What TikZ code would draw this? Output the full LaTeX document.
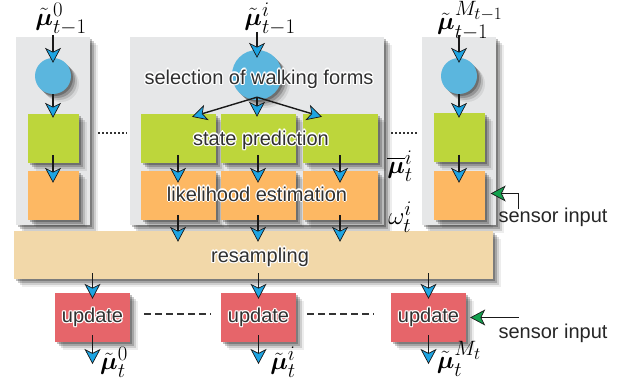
\documentclass[tikz,border=0pt]{standalone}
\usepackage{amsmath}
\usepackage{fontspec}
\setmainfont{Liberation Sans}
\usetikzlibrary{arrows.meta,shadows,calc}

\definecolor{panelgray}{HTML}{E6E7E8}
\definecolor{circblue}{HTML}{5BB6DE}
\definecolor{predgreen}{HTML}{BDD63B}
\definecolor{likeorange}{HTML}{FDB863}
\definecolor{restan}{HTML}{F2D8A9}
\definecolor{updred}{HTML}{E6656A}
\definecolor{tipblue}{HTML}{1DA4E2}
\definecolor{tipgreen}{HTML}{12A14E}
\definecolor{txtgray}{HTML}{303030}

% white halo behind a label
\newcommand\haloat[3]{\rlap{\kern#1\raisebox{#2}{\textcolor{white}{#3}}}}
\newcommand\halo[1]{%
  \haloat{1.2pt}{0pt}{#1}\haloat{-1.2pt}{0pt}{#1}%
  \haloat{0pt}{1.2pt}{#1}\haloat{0pt}{-1.2pt}{#1}%
  \haloat{.85pt}{.85pt}{#1}\haloat{-.85pt}{.85pt}{#1}%
  \haloat{.85pt}{-.85pt}{#1}\haloat{-.85pt}{-.85pt}{#1}#1}

\tikzset{
  softshadow/.style={
    drop shadow={shadow xshift=2pt,shadow yshift=-2pt,opacity=.25,fill=black},
    drop shadow={shadow xshift=4pt,shadow yshift=-4pt,opacity=.2,fill=black},
    drop shadow={shadow xshift=6pt,shadow yshift=-6pt,opacity=.13,fill=black},
    drop shadow={shadow xshift=8pt,shadow yshift=-8pt,opacity=.07,fill=black}},
  panel/.style={fill=panelgray,draw=none,softshadow,inner sep=0pt,anchor=north west},
  blob/.style={circle,fill=circblue,draw=none,softshadow,inner sep=0pt},
  predbox/.style={rectangle,fill=predgreen,draw=none,softshadow,inner sep=0pt,
    minimum height=49pt},
  likebox/.style={rectangle,fill=likeorange,draw=none,softshadow,inner sep=0pt,
    minimum height=49pt},
  updbox/.style={rectangle,fill=updred,draw=none,softshadow,inner sep=0pt,
    minimum width=75pt,minimum height=49pt,text=txtgray,
    font=\fontsize{20}{24}\selectfont},
  lbl/.style={text=txtgray,font=\fontsize{20}{24}\selectfont,inner sep=0pt},
  mathlbl/.style={text=black,font=\fontsize{24.88}{30}\selectfont,inner sep=0pt},
  arr/.style={draw=black!90,line width=1.4pt,
    -{Stealth[length=15pt,width=16pt,inset=4pt,fill=tipblue,line width=0.7pt]}},
  sensarr/.style={draw=black!90,line width=1.4pt,
    -{Stealth[length=15pt,width=16pt,inset=4pt,fill=tipgreen,line width=0.7pt]}},
  dotline/.style={draw=black!80,line width=1.5pt,dash pattern=on 2pt off 2pt},
  dashline/.style={draw=black!80,line width=1.4pt,dash pattern=on 6.5pt off 4.5pt},
}

\begin{document}
\begin{tikzpicture}[x=1pt,y=-1pt]
\useasboundingbox (0,0) rectangle (634,382);

% particle panels
\node[panel,minimum width=74pt,minimum height=188pt] (pL) at (16,37) {};
\node[panel,minimum width=254pt,minimum height=188pt] (pM) at (130,37) {};
\node[panel,minimum width=74pt,minimum height=188pt] (pR) at (422,37) {};

% walking-form selection
\node[blob,minimum size=36pt] (cL) at (53,76) {};
\node[blob,minimum size=50pt] (cM) at (257,75) {};
\node[blob,minimum size=36pt] (cR) at (459,76) {};

% state prediction boxes
\node[predbox,minimum width=51pt] (gL) at (53,138.5) {};
\node[predbox,minimum width=75pt] (g1) at (178,138.5) {};
\node[predbox,minimum width=75pt] (g2) at (258,138.5) {};
\node[predbox,minimum width=75pt] (g3) at (340,138.5) {};
\node[predbox,minimum width=51pt] (gR) at (459,138) {};

% likelihood boxes
\node[likebox,minimum width=51pt] (oL) at (53,195.5) {};
\node[likebox,minimum width=75pt] (o1) at (178,195.5) {};
\node[likebox,minimum width=75pt] (o2) at (258,195.5) {};
\node[likebox,minimum width=75pt] (o3) at (340,195.5) {};
\node[likebox,minimum width=51pt] (oR) at (459,195.5) {};

% resampling bar
\node[rectangle,fill=restan,draw=none,softshadow,inner sep=0pt,
  minimum width=479pt,minimum height=48pt] (res) at (253.5,255) {};

% update boxes
\node[updbox] (u0) at (92.5,317.5) {\halo{update}};
\node[updbox] (ui) at (258.5,317.5) {\halo{update}};
\node[updbox] (uM) at (428.5,317.5) {\halo{update}};

% stage labels
\node[lbl] (tsel) at (259,79) {\halo{selection of walking forms}};
\node[lbl] (tpred) at (261,140) {\halo{state prediction}};
\node[lbl] (tlike) at (257,194) {\halo{likelihood estimation}};
\node[lbl] (tres) at (260,257) {\halo{resampling}};

% particle labels
\node[mathlbl] (m0) at (61,19) {$\tilde{\boldsymbol{\mu}}^{0}_{t-1}$};
\node[mathlbl] (mi) at (270,19) {$\tilde{\boldsymbol{\mu}}^{i}_{t-1}$};
\node[mathlbl] (mM) at (470,21) {$\tilde{\boldsymbol{\mu}}^{M_{t-1}}_{t-1}$};
\node[mathlbl] (mbar) at (400,166) {$\overline{\boldsymbol{\mu}}^{i}_{t}$};
\node[mathlbl] (wi) at (400,217) {$\omega^{i}_{t}$};
\node[mathlbl] (n0) at (114,362) {$\tilde{\boldsymbol{\mu}}^{0}_{t}$};
\node[mathlbl] (ni) at (283,362) {$\tilde{\boldsymbol{\mu}}^{i}_{t}$};
\node[mathlbl] (nM) at (459,359) {$\tilde{\boldsymbol{\mu}}^{M_t}_{t}$};

% sensor inputs
\node[lbl,text=black!85] (sen1) at (553,217) {sensor input};
\node[lbl,text=black!85] (sen2) at (553,333) {sensor input};

% free ends of the connectors
\coordinate (s0) at (53,35);
\coordinate (si) at (257,32);
\coordinate (sM) at (459,35);
\coordinate (e0) at (92.5,364);
\coordinate (ei) at (258.5,364);
\coordinate (eM) at (428.5,364);

% inputs to selection
\draw[arr] (s0) -- ($(cL.north)+(0,5)$);
\draw[arr] (si) -- ($(cM.north)+(0,8)$);
\draw[arr] (sM) -- ($(cR.north)+(0,5)$);

% selection to prediction
\draw[arr] (cL.south) -- ($(gL.north)+(0,4)$);
\draw[arr] (cR.south) -- ($(gR.north)+(0,4.5)$);
\draw[arr] ($(cM.south)+(0,-3)$) -- ($(g1.north)+(14,3)$);
\draw[arr] ($(cM.south)+(0,-3)$) -- ($(g2.north)+(-1,3)$);
\draw[arr] ($(cM.south)+(0,-3)$) -- ($(g3.north)+(-18,3)$);

% prediction to likelihood
\foreach \g/\o in {gL/oL,g1/o1,g2/o2,g3/o3,gR/oR}
  \draw[arr] ($(\g.south)+(0,-8)$) -- ($(\o.north)+(0,12)$);

% likelihood to resampling
\foreach \o in {o1,o2,o3}
  \draw[arr] ($(\o.south)+(0,-5)$) -- ($(\o.south |- res.north)+(0,11)$);

% resampling to update, update to output
\foreach \u/\e in {u0/e0,ui/ei,uM/eM}{
  \draw[arr] ($(\u.north |- res.south)+(0,-6)$) -- ($(\u.north)+(0,6)$);
  \draw[arr] ($(\u.south)+(0,-7)$) -- (\e);
}

% sensor connectors
\draw[sensarr] ($(sen1.north west)+(20,2)$) |- ($(oR.east)+(6,-2)$);
\draw[sensarr] ($(sen2.north west)+(20,-6)$) |- ($(uM.east)+(4,0)$);

% elided particles
\draw[dotline] ($(pL.east)+(8,2)$) coordinate (d1) -- ($(pM.west |- d1)+(-3,0)$);
\draw[dotline] ($(pM.east)+(7,2)$) coordinate (d2) -- ($(pR.west |- d2)+(-3,0)$);
\draw[dashline] ($(u0.east)+(14,-3.5)$) -- ($(ui.west)+(-10,-3.5)$);
\draw[dashline] ($(ui.east)+(11,-3.5)$) -- ($(uM.west)+(-17,-3.5)$);
\end{tikzpicture}
\end{document}
